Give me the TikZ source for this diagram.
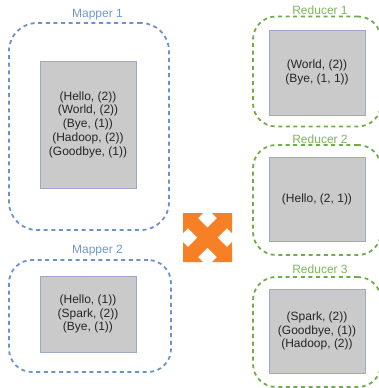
\documentclass[tikz,border=0pt]{standalone}
\usepackage{fontspec}
\setsansfont{Liberation Sans}
\definecolor{mapperblue}{HTML}{6A93CC}
\definecolor{mapperlabel}{HTML}{7098CE}
\definecolor{reducergreen}{HTML}{6FAD47}
\definecolor{reducerlabel}{HTML}{7DB65B}
\definecolor{pairgray}{HTML}{CACACA}
\definecolor{pairedge}{HTML}{9FA8CC}
\definecolor{shuffleorange}{HTML}{F58025}
\tikzset{
  outerbox/.style={draw, dashed, dash pattern=on 4pt off 3.6pt, line width=1.8pt, rounded corners=23pt, outer sep=0pt, inner sep=0pt},
  pairbox/.style={draw=pairedge, fill=pairgray, line width=0.9pt, outer sep=0pt, inner sep=0pt, align=center, text=black!85, font=\sffamily\fontsize{12}{13.7}\selectfont},
  boxlabel/.style={inner sep=0pt, font=\sffamily\fontsize{12}{13.7}\selectfont}
}
\begin{document}
\begin{tikzpicture}[y=-1pt, x=1pt]
    \useasboundingbox (0,0) rectangle (379,388);
    % mappers
    \node[outerbox, draw=mapperblue, rounded corners=28pt, minimum width=160pt, minimum height=207pt] (mapper1) at (89,126.5) {};
    \node[outerbox, draw=mapperblue, minimum width=162pt, minimum height=112pt] (mapper2) at (90,316) {};
    \node[pairbox, minimum width=96pt, minimum height=127pt] (pairs1) at (88,124.5) {(Hello, (2))\\(World, (2))\\(Bye, (1))\\(Hadoop, (2))\\(Goodbye, (1))};
    \node[pairbox, minimum width=96pt, minimum height=76pt] (pairs2) at (88,314) {(Hello, (1))\\(Spark, (2))\\(Bye, (1))};
    \node[boxlabel, text=mapperlabel] (label1) at (97.5,14.5) {Mapper 1};
    \node[boxlabel, text=mapperlabel] (label2) at (97.5,250.5) {Mapper 2};
    % reducers
    \foreach \n/\y in {1/71.5,2/200,3/332} {
      \node[outerbox, draw=reducergreen, minimum width=128pt, minimum height=110pt] (reducer\n) at (317,\y) {};
    }
    \node[pairbox, minimum width=96pt, minimum height=85pt] (result1) at (317,72.5) {(World, (2))\\(Bye, (1, 1))};
    \node[pairbox, minimum width=96pt, minimum height=84pt] (result2) at (317,199) {(Hello, (2, 1))};
    \node[pairbox, minimum width=96pt, minimum height=84pt] (result3) at (317,331) {(Spark, (2))\\(Goodbye, (1))\\(Hadoop, (2))};
    \node[boxlabel, text=reducerlabel] (rlabel1) at (320,10) {Reducer 1};
    \node[boxlabel, text=reducerlabel] (rlabel2) at (320,139) {Reducer 2};
    \node[boxlabel, text=reducerlabel] (rlabel3) at (320,269) {Reducer 3};
    % shuffle arrow
    \fill[shuffleorange, shift={(207.5,237.5)}] (-24.5,-24.5) -- (-4.5,-24.5) -- (-9.5,-19.5) -- (0,-10) -- (9.5,-19.5) -- (4.5,-24.5)
      -- (24.5,-24.5) -- (24.5,-4.5) -- (19.5,-9.5) -- (10,0) -- (19.5,9.5) -- (24.5,4.5)
      -- (24.5,24.5) -- (4.5,24.5) -- (9.5,19.5) -- (0,10) -- (-9.5,19.5) -- (-4.5,24.5)
      -- (-24.5,24.5) -- (-24.5,4.5) -- (-19.5,9.5) -- (-10,0) -- (-19.5,-9.5) -- (-24.5,-4.5) -- cycle;
\end{tikzpicture}
\end{document}
